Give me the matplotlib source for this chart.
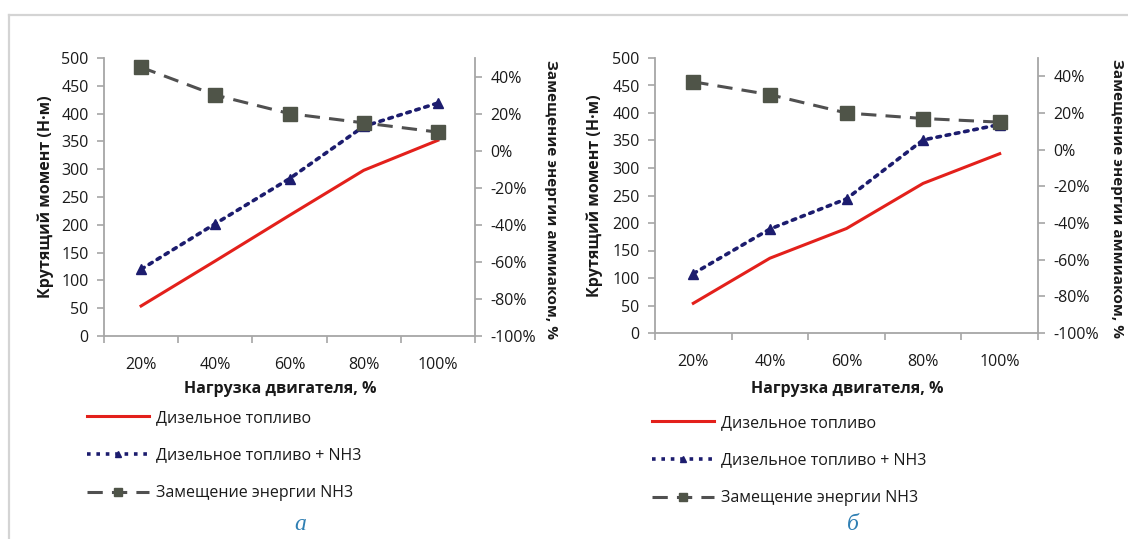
import numpy as np
import matplotlib
matplotlib.use("Agg")
import matplotlib.pyplot as plt
from matplotlib.ticker import FixedLocator, FuncFormatter
from matplotlib.lines import Line2D

plt.rcParams['font.family'] = ['Open Sans', 'DejaVu Sans']

# нагрузка двигателя
loads = ['20%', '40%', '60%', '80%', '100%']

# а) крутящий момент, Н·м и замещение энергии NH3, %
torque_diesel_a = [54, 135, 217, 298, 352]
torque_nh3_a = [120, 202, 283, 377, 419]
replace_a = [45, 30, 20, 15, 10]

# б)
torque_diesel_b = [54, 136, 190, 272, 326]
torque_nh3_b = [108, 189, 244, 351, 379]
replace_b = [37, 30, 20, 17, 15]

W, H = 1128, 539
RED = '#e3201b'
NAVY = '#1c1c6e'
GREY = '#505050'
SQ = '#4f5448'
AXC = '#a6a6a6'
TXT = '#1a1a1a'
CAP = '#2f7fb3'


def px(x0, y0, x1, y1):
    # прямоугольник в пикселях -> координаты фигуры
    return [x0 / W, 1 - y1 / H, (x1 - x0) / W, (y1 - y0) / H]


def pct(v, pos):
    return f'{int(round(v * 100))}%'


def panel(fig, rect, diesel, nh3, repl, xlab_x, leg_x, leg_y, cap, cap_x):
    ax = fig.add_axes(px(*rect))
    ax2 = ax.twinx()
    x = np.arange(len(loads))

    ax.plot(x, diesel, color=RED, lw=2.2, zorder=3)
    ax.plot(x, nh3, color=NAVY, lw=2.6, ls=(0, (1, 1.6)), dash_capstyle='round',
            marker='^', ms=7, mfc=NAVY, mec=NAVY, zorder=4)
    ax2.plot(x, np.array(repl) / 100, color=GREY, lw=2.2, ls=(0, (5, 3)),
             marker='s', ms=10, mfc=SQ, mec=SQ, zorder=5)

    ax.set_xlim(-0.5, len(loads) - 0.5)
    ax.set_ylim(0, 500)
    ax.set_yticks(np.arange(0, 501, 50))
    ax2.set_ylim(-1.0, 0.5)
    ax2.set_yticks(np.arange(-1.0, 0.41, 0.2))
    ax2.yaxis.set_major_formatter(FuncFormatter(pct))

    # деления по границам категорий, подписи по центрам
    ax.xaxis.set_major_locator(FixedLocator(np.arange(-0.5, len(loads), 1.0)))
    ax.xaxis.set_minor_locator(FixedLocator(x))
    ax.set_xticklabels([''] * (len(loads) + 1))
    ax.set_xticklabels(loads, minor=True)
    ax.tick_params(axis='x', which='major', length=5, color=AXC, width=1.2)
    ax.tick_params(axis='x', which='minor', length=0, pad=15, labelsize=11.5, labelcolor=TXT)
    ax.tick_params(axis='y', length=5, color=AXC, width=1.2, labelsize=11.5, labelcolor=TXT, pad=6)
    ax2.tick_params(axis='y', length=5, color=AXC, width=1.2, labelsize=11.5, labelcolor=TXT, pad=6)

    for a in (ax, ax2):
        for s in a.spines.values():
            s.set_visible(False)
    ax.spines['left'].set_visible(True)
    ax.spines['bottom'].set_visible(True)
    ax2.spines['right'].set_visible(True)
    for s in (ax.spines['left'], ax.spines['bottom'], ax2.spines['right']):
        s.set_color(AXC)
        s.set_linewidth(1.3)

    ax.text(-0.158, 0.5, 'Крутящий момент (Н·м)', transform=ax.transAxes, rotation=90,
            ha='center', va='center', fontsize=11.5, fontweight='bold', color=TXT)
    ax.text(1.205, 0.49, 'Замещение энергии аммиаком, %', transform=ax.transAxes, rotation=-90,
            ha='center', va='center', fontsize=11, fontweight='bold', color=TXT)
    fig.text(xlab_x / W, 1 - 389 / H, 'Нагрузка двигателя, %', ha='center', va='center',
             fontsize=11.5, fontweight='bold', color=TXT)

    handles = [
        Line2D([], [], color=RED, lw=2.2),
        Line2D([], [], color=NAVY, lw=2.6, ls=(0, (1, 1.6)), marker='^', ms=4.5,
               mfc=NAVY, mec=NAVY),
        Line2D([], [], color=GREY, lw=2.2, ls=(0, (5, 3)), marker='s', ms=6,
               mfc=SQ, mec=SQ),
    ]
    labels = ['Дизельное топливо', 'Дизельное топливо + NH3', 'Замещение энергии NH3']
    fig.legend(handles, labels, loc='upper left', bbox_to_anchor=(leg_x / W, 1 - leg_y / H),
               frameon=False, fontsize=11.5, handlelength=3.9, handletextpad=0.45,
               labelspacing=1.35, borderpad=0, borderaxespad=0, labelcolor=TXT)

    fig.text(cap_x / W, 1 - 525 / H, cap, ha='center', va='center', fontsize=17,
             style='italic', family=['Liberation Serif', 'DejaVu Serif'], color=CAP)
    return ax, ax2


fig = plt.figure(figsize=(W / 100, H / 100), dpi=100)

# рамка
fig.add_artist(Line2D([9 / W, 1], [1 - 15 / H, 1 - 15 / H], color='#d4d4d4', lw=1.6))
fig.add_artist(Line2D([9 / W, 9 / W], [0, 1 - 15 / H], color='#d4d4d4', lw=1.6))

panel(fig, (104, 58, 475, 336), torque_diesel_a, torque_nh3_a, replace_a,
      280, 87, 410, 'a', 300)
panel(fig, (655, 58, 1038, 333), torque_diesel_b, torque_nh3_b, replace_b,
      847, 652, 415, 'б', 853)

fig.savefig('out.png', dpi=100)
